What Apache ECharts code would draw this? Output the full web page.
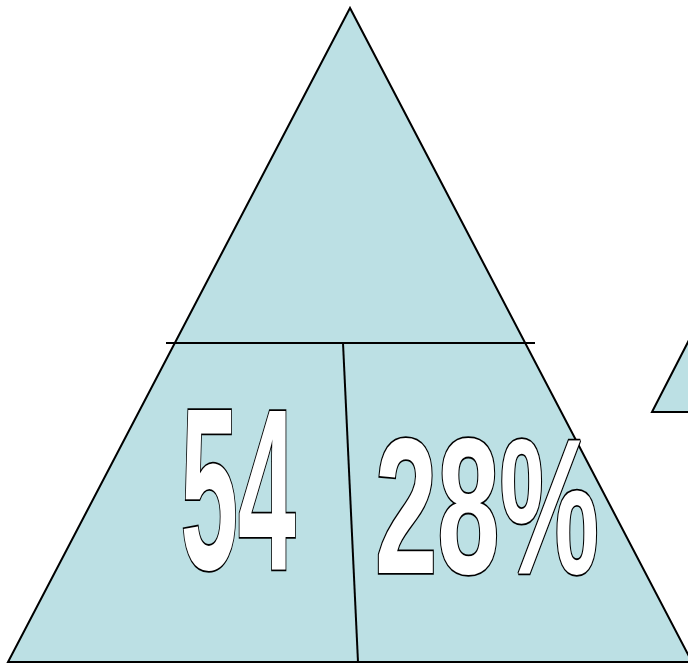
<!DOCTYPE html>
<html><head><meta charset="utf-8">
<script src="https://cdn.jsdelivr.net/npm/echarts@6/dist/echarts.min.js"></script>
<style>html,body{margin:0;padding:0;background:#fff}#c{width:688px;height:663px}</style>
</head><body><div id="c"></div>
<script>
// shapes in chart data space (x: 0..688, y: 0..663 top-down)
const mainTriangle = [[350, 8], [8, 662], [692, 662]];
const sideTriangle = [[652, 412], [740, 241], [828, 412]];
const shelfLine = [[166, 343], [535, 343]];
const splitLine = [[343, 343], [358, 662]];
const labelTexts = ['54', '28%'];
const labelX = [238, 487];
const labelY = [506, 520];
const labelSize = [230, 193];
const labelSquash = [0.45, 0.58];

const polygons = [mainTriangle, sideTriangle];
const lines = [shelfLine, splitLine];
const FILL = '#BCE0E4';

const chart = echarts.init(document.getElementById('c'), null, {renderer: 'canvas'});
chart.setOption({
  animation: false,
  backgroundColor: '#ffffff',
  grid: {left: 0, right: 0, top: 0, bottom: 0},
  xAxis: {type: 'value', min: 0, max: 688, show: false},
  yAxis: {type: 'value', min: 0, max: 663, inverse: true, show: false},
  series: [
    {
      type: 'custom', clip: true,
      data: polygons.map((p, i) => [i]),
      renderItem: function (params, api) {
        const pts = polygons[params.dataIndex].map(p => api.coord(p));
        return {type: 'polygon', shape: {points: pts},
          style: {fill: FILL, stroke: '#000', lineWidth: 2}};
      }
    },
    {
      type: 'custom', clip: true,
      data: lines.map((p, i) => [i]),
      renderItem: function (params, api) {
        const pts = lines[params.dataIndex].map(p => api.coord(p));
        return {type: 'polyline', shape: {points: pts},
          style: {fill: null, stroke: '#000', lineWidth: 2}};
      }
    },
    {
      type: 'custom', clip: true,
      data: labelTexts.map((t, i) => [i]),
      renderItem: function (params, api) {
        const i = params.dataIndex;
        const pt = api.coord([labelX[i], labelY[i]]);
        return {type: 'text', x: pt[0], y: pt[1], scaleX: labelSquash[i], scaleY: 1,
          style: {text: labelTexts[i], x: 0, y: 0, align: 'center', verticalAlign: 'middle',
            fontFamily: '"Liberation Sans", Arial, sans-serif', fontWeight: 'bold',
            fontSize: labelSize[i], fill: '#ffffff', stroke: '#000000', lineWidth: 3.6}};
      }
    }
  ]
});
</script>
</body></html>
